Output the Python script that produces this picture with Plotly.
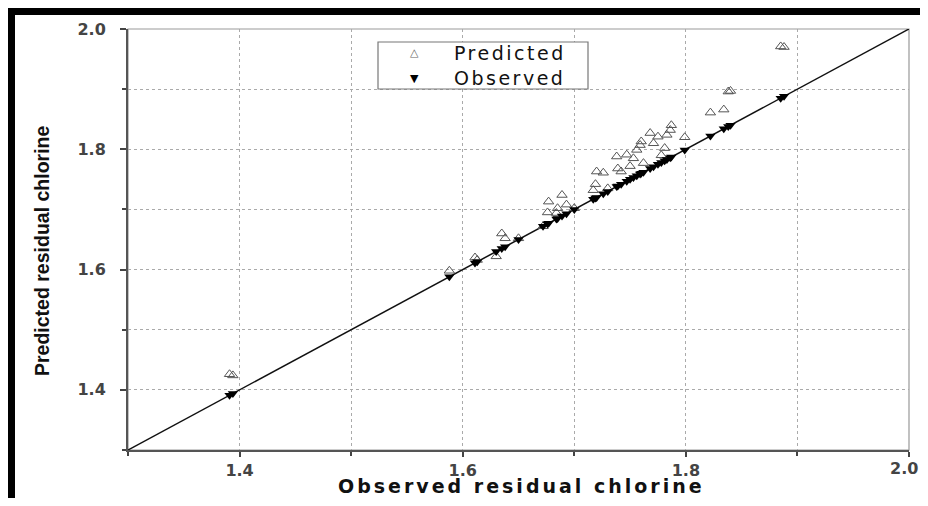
import plotly.graph_objects as go

# Data: observed residual chlorine (x) and predicted values
observed = [1.391, 1.394, 1.588, 1.611, 1.613, 1.630, 1.635, 1.638, 1.650, 1.672,
            1.676, 1.677, 1.684, 1.685, 1.689, 1.693, 1.700, 1.717, 1.719, 1.720,
            1.726, 1.730, 1.739, 1.738, 1.742, 1.747, 1.750, 1.753, 1.756, 1.759,
            1.760, 1.762, 1.768, 1.771, 1.775, 1.778, 1.781, 1.783, 1.786, 1.787,
            1.799, 1.822, 1.834, 1.838, 1.840, 1.885, 1.888]
predicted = [1.426, 1.424, 1.598, 1.620, 1.616, 1.622, 1.660, 1.652, 1.652, 1.672,
             1.695, 1.713, 1.694, 1.702, 1.724, 1.708, 1.702, 1.732, 1.742, 1.763,
             1.761, 1.735, 1.768, 1.788, 1.763, 1.791, 1.772, 1.785, 1.799, 1.807,
             1.813, 1.777, 1.827, 1.810, 1.821, 1.790, 1.802, 1.824, 1.832, 1.840,
             1.820, 1.861, 1.866, 1.896, 1.897, 1.971, 1.970]
axis_range = [1.3, 2.0]
tick_vals = [1.4, 1.6, 1.8, 2.0]
tick_text = ["1.4", "1.6", "1.8", "2.0"]
series_names = ["Predicted", "Observed"]

# page has an 8px body margin on every side; figure sized to fit the window
OFF = 8
W, H = 928 - 2 * OFF, 506 - 2 * OFF
L, R, T, B = 120, 11, 21, 48
pw, ph = W - L - R, H - T - B

def px_x(p):  # screen pixel -> paper x
    return (p - OFF - L) / pw

def px_y(p):  # screen pixel -> paper y
    return (H - B - (p - OFF)) / ph

fig = go.Figure()

# 1:1 line
fig.add_trace(go.Scatter(x=axis_range, y=axis_range, mode="lines",
                         line=dict(color="#111111", width=1.5),
                         showlegend=False, hoverinfo="skip"))

fig.add_trace(go.Scatter(x=observed, y=predicted, mode="markers", name=series_names[0],
                         showlegend=False,
                         marker=dict(symbol="triangle-up-open", size=9,
                                     color="#555555", line=dict(width=1, color="#555555"))))
fig.add_trace(go.Scatter(x=observed, y=observed, mode="markers", name=series_names[1],
                         showlegend=False,
                         marker=dict(symbol="triangle-down", size=9, color="#000000")))

tick_font = dict(family="DejaVu Sans", size=16, color="#444444", weight="bold")

axis_common = dict(
    range=axis_range,
    tickvals=tick_vals,
    ticks="outside",
    tickwidth=2,
    tickcolor="#444444",
    showline=True,
    linewidth=2,
    linecolor="#555555",
    showgrid=True,
    gridcolor="#aaaaaa",
    griddash="dot",
    gridwidth=1,
    zeroline=False,
    tickfont=tick_font,
    minor=dict(tick0=1.3, dtick=0.1, ticks="outside", ticklen=4, tickwidth=2,
               tickcolor="#444444", showgrid=True, gridcolor="#aaaaaa",
               griddash="dot", gridwidth=1),
)

# the last x label sits at the page edge, so it is drawn as an annotation below
fig.update_xaxes(**axis_common, ticklen=5, ticktext=tick_text[:-1] + [""])
fig.update_yaxes(**axis_common, ticklen=6, ticktext=tick_text, ticklabelstandoff=11)

shapes = [
    # thin frame on top/right
    dict(type="rect", xref="paper", yref="paper", x0=0, x1=1, y0=0, y1=1,
         line=dict(color="#999999", width=1.2), layer="below"),
    # black border bands (image frame)
    dict(type="rect", xref="paper", yref="paper", x0=px_x(OFF), x1=px_x(15),
         y0=px_y(506 - OFF), y1=px_y(15), fillcolor="black", line=dict(width=0)),
    dict(type="rect", xref="paper", yref="paper", x0=px_x(OFF), x1=px_x(928 - OFF),
         y0=px_y(15), y1=px_y(OFF), fillcolor="black", line=dict(width=0)),
    # legend box
    dict(type="rect", xref="paper", yref="paper", x0=px_x(378), x1=px_x(588),
         y0=px_y(89), y1=px_y(42), fillcolor="white",
         line=dict(color="#777777", width=1.2), layer="above"),
]

legend_font = dict(family="DejaVu Sans", size=19, color="#111111")
annotations = [
    dict(text=tick_text[-1], xref="paper", yref="paper", x=px_x(928 - OFF), y=0,
         xanchor="right", yanchor="top", yshift=-7, showarrow=False,
         font=tick_font),
    dict(text='<span style="letter-spacing:3px">Observed residual chlorine</span>',
         xref="paper", yref="paper", borderpad=0,
         x=px_x(521), y=px_y(498), xanchor="center", yanchor="bottom", showarrow=False,
         font=dict(family="DejaVu Sans", size=19, color="#111111", weight="bold")),
    dict(text="<b>Predicted residual chlorine</b>", xref="paper", yref="paper",
         x=px_x(42), y=px_y(251), xanchor="center", yanchor="middle", showarrow=False,
         textangle=-90,
         font=dict(family="Liberation Sans", size=19.5, color="#111111")),
    # legend entries
    dict(text="\u25b3", xref="paper", yref="paper", x=px_x(414), y=px_y(53),
         xanchor="center", yanchor="middle", showarrow=False,
         font=dict(family="DejaVu Sans", size=11, color="#666666")),
    dict(text="\u25bc", xref="paper", yref="paper", x=px_x(414), y=px_y(78),
         xanchor="center", yanchor="middle", showarrow=False,
         font=dict(family="DejaVu Sans", size=11, color="#000000")),
    dict(text=f'<span style="letter-spacing:2.5px">{series_names[0]}</span>',
         xref="paper", yref="paper", x=px_x(452), y=px_y(53),
         xanchor="left", yanchor="middle", showarrow=False, font=legend_font),
    dict(text=f'<span style="letter-spacing:2.5px">{series_names[1]}</span>',
         xref="paper", yref="paper", x=px_x(452), y=px_y(78),
         xanchor="left", yanchor="middle", showarrow=False, font=legend_font),
]

fig.update_layout(
    width=W, height=H,
    margin=dict(l=L, r=R, t=T, b=B),
    paper_bgcolor="white",
    plot_bgcolor="white",
    shapes=shapes,
    annotations=annotations,
    showlegend=False,
)

fig.write_html("out.html")
